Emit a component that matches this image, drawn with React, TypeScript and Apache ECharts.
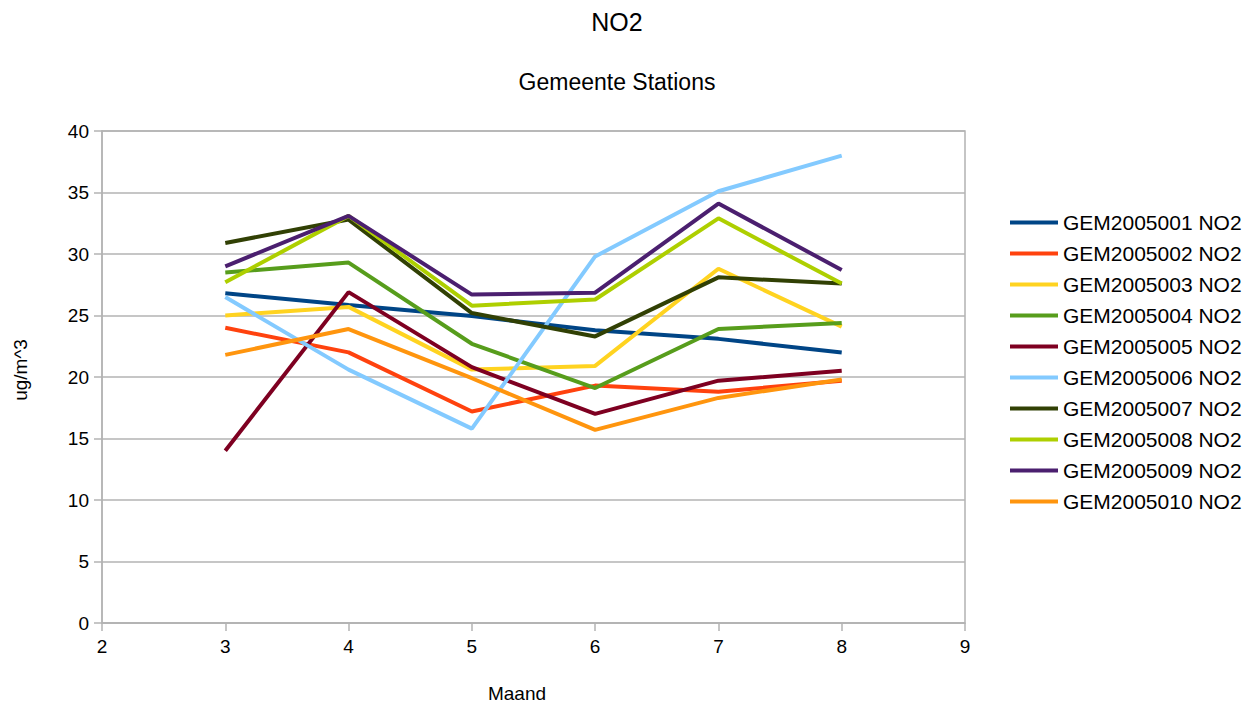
import React, { useEffect, useRef } from "react";
import * as echarts from "echarts";

const months = [3, 4, 5, 6, 7, 8];
const seriesNames = [
  "GEM2005001 NO2",
  "GEM2005002 NO2",
  "GEM2005003 NO2",
  "GEM2005004 NO2",
  "GEM2005005 NO2",
  "GEM2005006 NO2",
  "GEM2005007 NO2",
  "GEM2005008 NO2",
  "GEM2005009 NO2",
  "GEM2005010 NO2",
];
const colors = [
  "#004586",
  "#ff420e",
  "#ffd320",
  "#579d1c",
  "#7e0021",
  "#83caff",
  "#314004",
  "#aecf00",
  "#4b1f6f",
  "#ff950e",
];
const gem001 = [26.8, 25.85, 24.95, 23.8, 23.1, 22.0];
const gem002 = [24.0, 22.0, 17.2, 19.3, 18.8, 19.7];
const gem003 = [25.0, 25.7, 20.6, 20.9, 28.8, 24.1];
const gem004 = [28.5, 29.3, 22.7, 19.1, 23.9, 24.4];
const gem005 = [14.0, 26.9, 20.8, 17.0, 19.7, 20.5];
const gem006 = [26.5, 20.6, 15.8, 29.8, 35.1, 38.0];
const gem007 = [30.9, 32.8, 25.2, 23.3, 28.1, 27.6];
const gem008 = [27.7, 33.1, 25.8, 26.3, 32.9, 27.6];
const gem009 = [29.0, 33.1, 26.7, 26.85, 34.1, 28.7];
const gem010 = [21.8, 23.9, 19.9, 15.7, 18.3, 19.8];
const allValues = [gem001, gem002, gem003, gem004, gem005, gem006, gem007, gem008, gem009, gem010];

const FONT = "'Liberation Sans', Arial, sans-serif";

export default function App() {
  const ref = useRef<HTMLDivElement>(null);
  useEffect(() => {
    document.body.style.margin = "0";
    const chart = echarts.init(ref.current!, null, { renderer: "svg" });
    chart.setOption({
      animation: false,
      backgroundColor: "#ffffff",
      textStyle: { fontFamily: FONT },
      grid: {
        left: 102,
        right: 285,
        top: 131,
        bottom: 82,
        show: true,
        borderColor: "#b3b3b3",
        borderWidth: 1.5,
      },
      graphic: [
        {
          type: "text",
          x: 617,
          y: 22,
          style: { text: "NO2", fontSize: 25, fontFamily: FONT, fill: "#000", align: "center", verticalAlign: "middle" },
        },
        {
          type: "text",
          x: 617,
          y: 82,
          style: { text: "Gemeente Stations", fontSize: 23, fontFamily: FONT, fill: "#000", align: "center", verticalAlign: "middle" },
        },
        {
          type: "text",
          x: 517,
          y: 693,
          style: { text: "Maand", fontSize: 19, fontFamily: FONT, fill: "#000", align: "center", verticalAlign: "middle" },
        },
        {
          type: "text",
          x: 20,
          y: 370,
          rotation: Math.PI / 2,
          style: { text: "ug/m^3", fontSize: 19, fontFamily: FONT, fill: "#000", align: "center", verticalAlign: "middle" },
        },
      ],
      legend: {
        orient: "vertical",
        left: 1005,
        top: 207,
        icon: "rect",
        itemWidth: 48,
        itemHeight: 4,
        itemGap: 10,
        data: seriesNames,
        textStyle: { fontSize: 21, fontFamily: FONT, color: "#000", lineHeight: 21 },
      },
      xAxis: {
        type: "value",
        min: 2,
        max: 9,
        interval: 1,
        axisLine: { show: true, lineStyle: { color: "#b3b3b3", width: 1.5 } },
        axisTick: { show: true, length: 8, lineStyle: { color: "#b3b3b3", width: 1.5 } },
        axisLabel: { fontSize: 19, color: "#000", fontFamily: FONT, margin: 14 },
        splitLine: { show: false },
      },
      yAxis: {
        type: "value",
        min: 0,
        max: 40,
        interval: 5,
        axisLine: { show: true, lineStyle: { color: "#b3b3b3", width: 1.5 } },
        axisTick: { show: true, length: 8, lineStyle: { color: "#b3b3b3", width: 1.5 } },
        axisLabel: { fontSize: 19, color: "#000", fontFamily: FONT, margin: 13 },
        splitLine: { show: true, lineStyle: { color: "#b3b3b3", width: 1.5 } },
      },
      series: seriesNames.map((name, i) => ({
        name,
        type: "line",
        data: months.map((m, j) => [m, allValues[i][j]]),
        symbol: "none",
        lineStyle: { width: 4, color: colors[i] },
        itemStyle: { color: colors[i] },
      })),
    });
    return () => chart.dispose();
  }, []);
  return <div ref={ref} style={{ width: 1250, height: 705 }} />;
}
